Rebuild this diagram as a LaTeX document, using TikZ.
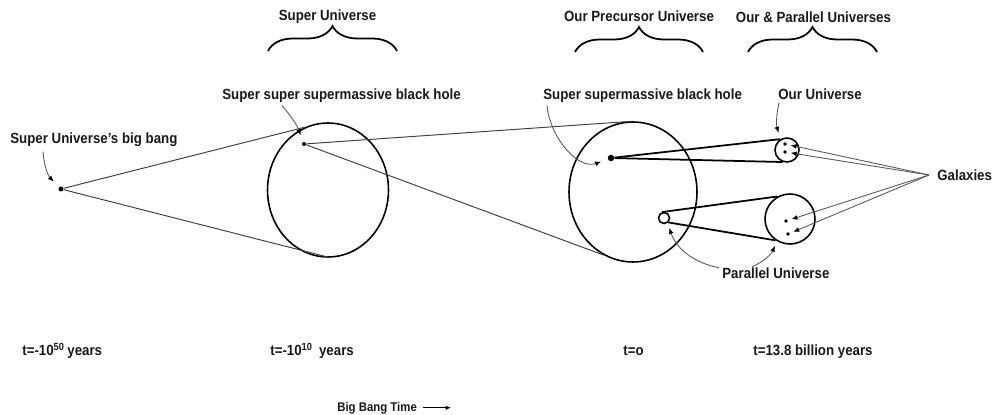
\documentclass[tikz,border=0pt]{standalone}
\usepackage{fontspec}
\setmainfont{Liberation Sans}[FakeStretch=0.9]
\usetikzlibrary{arrows.meta, decorations.pathreplacing, calc, shapes.geometric}
\tikzset{
  bh/lbl/.style={font=\fontsize{8.4}{10}\selectfont\bfseries, inner sep=0pt,
    text=black!90},
  bh/uni/.style={ellipse, draw=black, line width=0.9pt, inner sep=0pt},
  bh/dot/.style={circle, fill=black, inner sep=0pt, minimum size=#1},
  bh/dot/.default=0.1cm,
  bh/gal/.style={circle, fill=black, inner sep=0pt, minimum size=0.075cm},
  bh/thin/.style={draw=black!75, line width=0.55pt},
  bh/thick/.style={draw=black, line width=1pt},
  bh/call/.style={draw=black!65, line width=0.5pt,
    -{Latex[length=3.4pt,width=2.8pt,color=black]}},
  bh/tarr/.style={draw=black, line width=0.7pt,
    -{Latex[length=3.2pt,width=2.6pt]}},
  bh/brace/.style={decorate, decoration={brace, amplitude=0.5cm},
    line width=1pt}
}
\begin{document}
\begin{tikzpicture}[x=0.02cm, y=-0.02cm]
  \useasboundingbox (0,0) rectangle (994,415);

  % universes
  \node[bh/uni, minimum width=2.42cm, minimum height=2.68cm] (c1) at (328,190) {};
  \node[bh/uni, minimum width=2.56cm, minimum height=2.8cm] (c2) at (633,192) {};
  \node[bh/uni, circle, minimum size=0.48cm] (ou) at (787,150) {};
  \node[bh/uni, circle, minimum size=1.0cm] (pu) at (790,219) {};
  \node[bh/uni, circle, minimum size=0.22cm] (po) at (664,218) {};

  % black holes
  \node[bh/dot=0.1cm] (bb) at (61,189) {};
  \node[bh/dot=0.08cm] (ss) at (304,144) {};
  \node[bh/dot=0.13cm] (smbh) at (611,158) {};

  % galaxies
  \node[bh/gal] (g1) at (785,144) {};
  \node[bh/gal] (g2) at (785,152) {};
  \node[bh/gal] (g3) at (786,221) {};
  \node[bh/gal] (g4) at (788,234) {};

  \draw[bh/thin] (bb) -- (c1.110);
  \draw[bh/thin] (bb) -- (c1.272);
  \draw[bh/thin] (ss) -- (c2.north);
  \draw[bh/thin] (ss) -- (c2.245);
  \draw[bh/thick] (smbh) -- (ou.122);
  \draw[bh/thick] (smbh) -- (ou.250);
  \draw[bh/thick] (po.110) -- (pu.119);
  \draw[bh/thick] (po.315) -- (pu.236);

  % labels
  \node[bh/lbl, anchor=base west] (lbb) at (10,144) {Super Universe's big bang};
  \node[bh/lbl, anchor=base west] (lss) at (222,100) {Super super supermassive black hole};
  \node[bh/lbl, anchor=base west] (lsmbh) at (543,100) {Super supermassive black hole};
  \node[bh/lbl, anchor=base west] (lou) at (778,100) {Our Universe};
  \node[bh/lbl, anchor=base west] (lpu) at (722,278) {Parallel Universe};
  \node[bh/lbl, anchor=west] (lgal) at (937,175) {Galaxies};
  \coordinate (gx) at ($(lgal.west)+(-8,0)$);

  \foreach \g in {g1,g2,g3,g4}
    \draw[bh/call, shorten >=0.07cm] (gx) -- (\g);

  \draw[bh/call, shorten >=0.15cm] ($(lbb.south west)+(33,4)$) to[bend right=20] (bb);
  \draw[bh/call, shorten >=0.14cm] ($(lss.south west)+(60,2)$) to[bend left=10] (ss);
  \draw[bh/call, shorten >=0.14cm] ($(lsmbh.south west)+(4,2)$) to[out=-85, in=200] (smbh);
  \draw[bh/call, shorten >=0.13cm] ($(lou.south west)+(1,2)$) to[bend right=15] (ou.120);
  \draw[bh/call, shorten >=0.1cm] ($(lpu.west)+(-3,-5)$) to[bend left=30] (po.-55);
  \draw[bh/call, shorten >=0.1cm] ($(lpu.north west)+(30,0)$) to[bend right=20] (pu.240);

  % braces
  \coordinate (su-l) at (268,51);
  \coordinate (su-r) at (397,51);
  \coordinate (pc-l) at (575,52);
  \coordinate (pc-r) at (703,52);
  \coordinate (op-l) at (748,52);
  \coordinate (op-r) at (877,52);
  \draw[bh/brace] (su-l) -- (su-r);
  \draw[bh/brace] (pc-l) -- (pc-r);
  \draw[bh/brace] (op-l) -- (op-r);
  \node[bh/lbl, anchor=base] (lsu) at ($(su-l)!0.5!(su-r)+(-5,-30)$) {Super Universe};
  \node[bh/lbl, anchor=base] (lpc) at ($(pc-l)!0.5!(pc-r)+(0,-30)$) {Our Precursor Universe};
  \node[bh/lbl, anchor=base] (lop) at ($(op-l)!0.5!(op-r)+(1,-29)$) {Our \& Parallel Universes};

  % time axis
  \node[bh/lbl, anchor=base west] (t1) at (22,355) {t=-10\textsuperscript{50}\,years};
  \node[bh/lbl, anchor=base west] (t2) at (270,355) {t=-10\textsuperscript{10}\ \,years};
  \node[bh/lbl, anchor=base west] (t3) at (623,355) {t=o};
  \node[bh/lbl, anchor=base west] (t4) at (753,355) {t=13.8 billion years};
  \node[bh/lbl, font=\fontsize{7.2}{9}\selectfont\bfseries, anchor=base west] (lbbt) at (337,411) {Big Bang Time};
  \coordinate (bbt-end) at ($(lbbt.east)+(34,0)$);
  \draw[bh/tarr] ($(lbbt.east)+(6,0)$) -- (bbt-end);
\end{tikzpicture}
\end{document}
